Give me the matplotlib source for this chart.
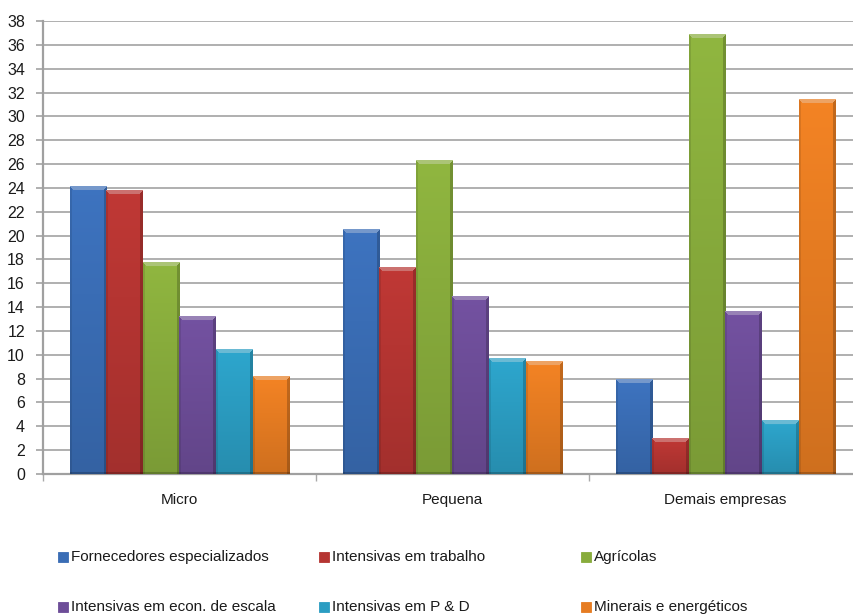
import numpy as np
import matplotlib.pyplot as plt
from matplotlib.colors import to_rgb
from matplotlib.patches import Rectangle

plt.rcParams['font.family'] = ['Liberation Sans', 'DejaVu Sans']

# Data
categories = ["Micro", "Pequena", "Demais empresas"]
series_names = ["Fornecedores especializados", "Intensivas em trabalho", "Agrícolas",
                "Intensivas em econ. de escala", "Intensivas em P & D", "Minerais e energéticos"]
fornecedores = [24.1, 20.5, 7.95]
trabalho = [23.8, 17.3, 3.0]
agricolas = [17.7, 26.3, 36.9]
escala = [13.2, 14.9, 13.6]
p_e_d = [10.45, 9.7, 4.45]
minerais = [8.2, 9.4, 31.4]
series_values = [fornecedores, trabalho, agricolas, escala, p_e_d, minerais]
colors = ["#3a6db5", "#b53532", "#88ac3c", "#6d4d98", "#2b9dc2", "#e67c22"]
y_ticks = list(range(0, 39, 2))

W, H = 854, 614
fig = plt.figure(figsize=(W / 100, H / 100), dpi=100)
ax = fig.add_axes([43 / W, 1 - 474 / H, 819 / W, 453 / H])

bar_w = 0.134
n = len(series_names)


def bevel_image(color, w_px, h_px):
    # Excel-like bevelled bar: light top band, dark right edge, darker bottom
    c = np.array(to_rgb(color))
    w_px, h_px = max(int(round(w_px)), 4), max(int(round(h_px)), 4)
    yy = np.linspace(0, 1, h_px)[:, None]
    xx = np.arange(w_px)[None, :]
    shade = 1.06 - 0.16 * yy + np.zeros((h_px, w_px))
    shade[:, -3:] *= 0.8
    shade[:, :2] *= 0.9
    img = c[None, None, :] * shade[:, :, None]
    top = np.arange(h_px)[:, None] < 4
    corner = (xx >= np.arange(h_px)[:, None]) & (xx < w_px - np.arange(h_px)[:, None])
    band = top & corner
    light = c + (1 - c) * 0.3
    img[band] = light
    img[-2:, :, :] *= 0.8
    return np.clip(img, 0, 1)


ax.set_xlim(0, 3)
ax.set_ylim(0, 38)
px_x = 819 / 3.0
px_y = 453 / 38.0

for i, (name, vals, col) in enumerate(zip(series_names, series_values, colors)):
    xs = np.arange(len(categories)) + 0.5 + (i - (n - 1) / 2) * bar_w
    bars = ax.bar(xs, vals, width=bar_w, color=col, zorder=2, label=name)
    for b in bars:
        x0, h = b.get_x(), b.get_height()
        img = bevel_image(col, bar_w * px_x, h * px_y)
        ax.imshow(img, extent=(x0, x0 + bar_w, 0, h), aspect='auto',
                  interpolation='bilinear', zorder=3)

ax.set_xlim(0, 3)
ax.set_ylim(0, 38)
ax.set_aspect('auto')

grid_col = "#a9a9a9"
ax.set_yticks(y_ticks)
ax.yaxis.grid(True, color=grid_col, linewidth=1.3)
ax.set_axisbelow(True)
ax.tick_params(axis='y', length=5, width=1.3, color=grid_col, pad=8, labelsize=11.5,
               labelcolor="#1a1a1a")

ax.set_xticks([0, 1, 2, 3])
ax.set_xticklabels([])
ax.set_xticks([0.5, 1.5, 2.5], minor=True)
ax.set_xticklabels(categories, minor=True)
ax.tick_params(axis='x', which='major', length=5, width=1.0, color=grid_col)
ax.tick_params(axis='x', which='minor', length=0, pad=14, labelsize=11, labelcolor="#1a1a1a")

for s in ['top', 'right']:
    ax.spines[s].set_visible(False)
for s in ['left', 'bottom']:
    ax.spines[s].set_color("#a0a0a0")
    ax.spines[s].set_linewidth(1.6)

# Legend laid out as in the reference: 2 rows x 3 columns under the chart
leg_x = [58, 319, 581]
leg_y = [557, 607]
for k, (name, col) in enumerate(zip(series_names, colors)):
    r, cidx = divmod(k, 3)
    x_px, y_px = leg_x[cidx], leg_y[r]
    fig.patches.append(Rectangle((x_px / W, 1 - (y_px + 5) / H), 10 / W, 10 / H,
                                 transform=fig.transFigure, facecolor=col,
                                 edgecolor=to_rgb(col) + np.array([0, 0, 0]) * 0, linewidth=0.6))
    fig.text((x_px + 13) / W, 1 - y_px / H, name, fontsize=11, color="#1a1a1a",
             ha='left', va='center')

fig.savefig("out.png", dpi=100)
